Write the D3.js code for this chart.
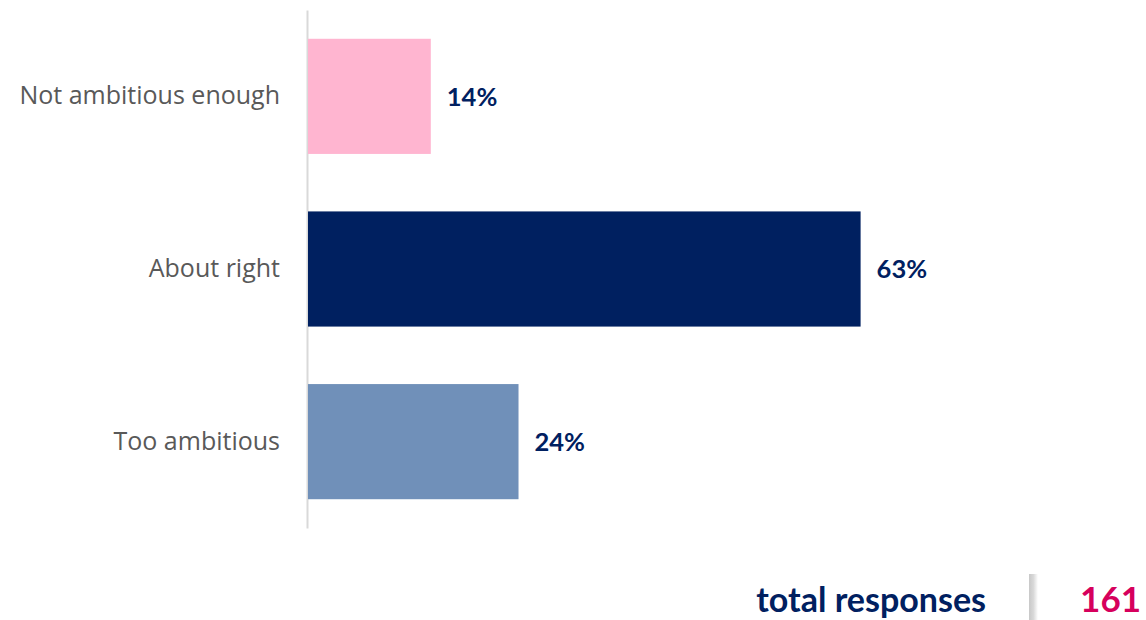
<!DOCTYPE html>
<html>
<head>
<meta charset="utf-8">
<script src="https://cdn.jsdelivr.net/npm/d3@7"></script>
<style>
  html, body { margin: 0; padding: 0; background: #ffffff; }
  svg { display: block; }
</style>
</head>
<body>
<svg id="chart" width="1146" height="620"></svg>
<script>
// Survey answers: how ambitious is the plan?
const categories = ["Not ambitious enough", "About right", "Too ambitious"];
const shares = [14, 63, 24];
const barColors = ["#ffb5d0", "#002060", "#7090b9"];
const totalLabel = "total responses";
const totalResponses = 161;

const svg = d3.select("#chart");

const x = d3.scaleLinear().domain([0, 70]).range([308, 922]);
const y = d3.scaleBand()
  .domain(categories)
  .range([10, 528])
  .paddingInner(0.333)
  .paddingOuter(0.1667);

// Category axis (left), drawn as a plain grey rule with labels
const yAxis = d3.axisLeft(y).tickSize(0).tickPadding(27);
const gy = svg.append("g")
  .attr("transform", `translate(${x(0) - 1},0)`)
  .call(yAxis);
gy.select(".domain")
  .attr("stroke", "#d9d9d9")
  .attr("stroke-width", 2);
gy.selectAll("text")
  .attr("font-family", "'Open Sans', sans-serif")
  .attr("font-size", 25)
  .attr("fill", "#595959");

// Bars
const rows = categories.map((c, i) => ({ cat: c, v: shares[i], color: barColors[i] }));
svg.append("g").selectAll("rect")
  .data(rows)
  .join("rect")
  .attr("x", x(0))
  .attr("y", d => y(d.cat))
  .attr("width", d => x(d.v) - x(0))
  .attr("height", y.bandwidth())
  .attr("fill", d => d.color);

// Value labels
svg.append("g").selectAll("text")
  .data(rows)
  .join("text")
  .attr("x", d => x(d.v) + 16)
  .attr("y", d => y(d.cat) + y.bandwidth() / 2)
  .attr("dy", "0.36em")
  .attr("font-family", "Lato, 'Open Sans', sans-serif")
  .attr("font-weight", 700)
  .attr("font-size", 25.5)
  .attr("fill", "#002060")
  .text(d => d.v + "%");

// Total responses footer
svg.append("text")
  .attr("x", 986)
  .attr("y", 612)
  .attr("text-anchor", "end")
  .attr("font-family", "Lato, sans-serif")
  .attr("font-weight", 700)
  .attr("font-size", 34)
  .attr("fill", "#002060")
  .text(totalLabel);

const sepGrad = svg.append("defs").append("linearGradient")
  .attr("id", "sep").attr("x1", "0").attr("x2", "1");
sepGrad.append("stop").attr("offset", "0").attr("stop-color", "#c8c8c8");
sepGrad.append("stop").attr("offset", "0.5").attr("stop-color", "#d9d9d9");
sepGrad.append("stop").attr("offset", "1").attr("stop-color", "#ffffff");
svg.append("rect")
  .attr("x", 1029).attr("y", 574)
  .attr("width", 9).attr("height", 46)
  .attr("fill", "url(#sep)");

svg.append("text")
  .attr("x", 1141)
  .attr("y", 612)
  .attr("text-anchor", "end")
  .attr("font-family", "Lato, sans-serif")
  .attr("font-weight", 700)
  .attr("font-size", 35)
  .attr("fill", "#d6005c")
  .text(totalResponses);
</script>
</body>
</html>
